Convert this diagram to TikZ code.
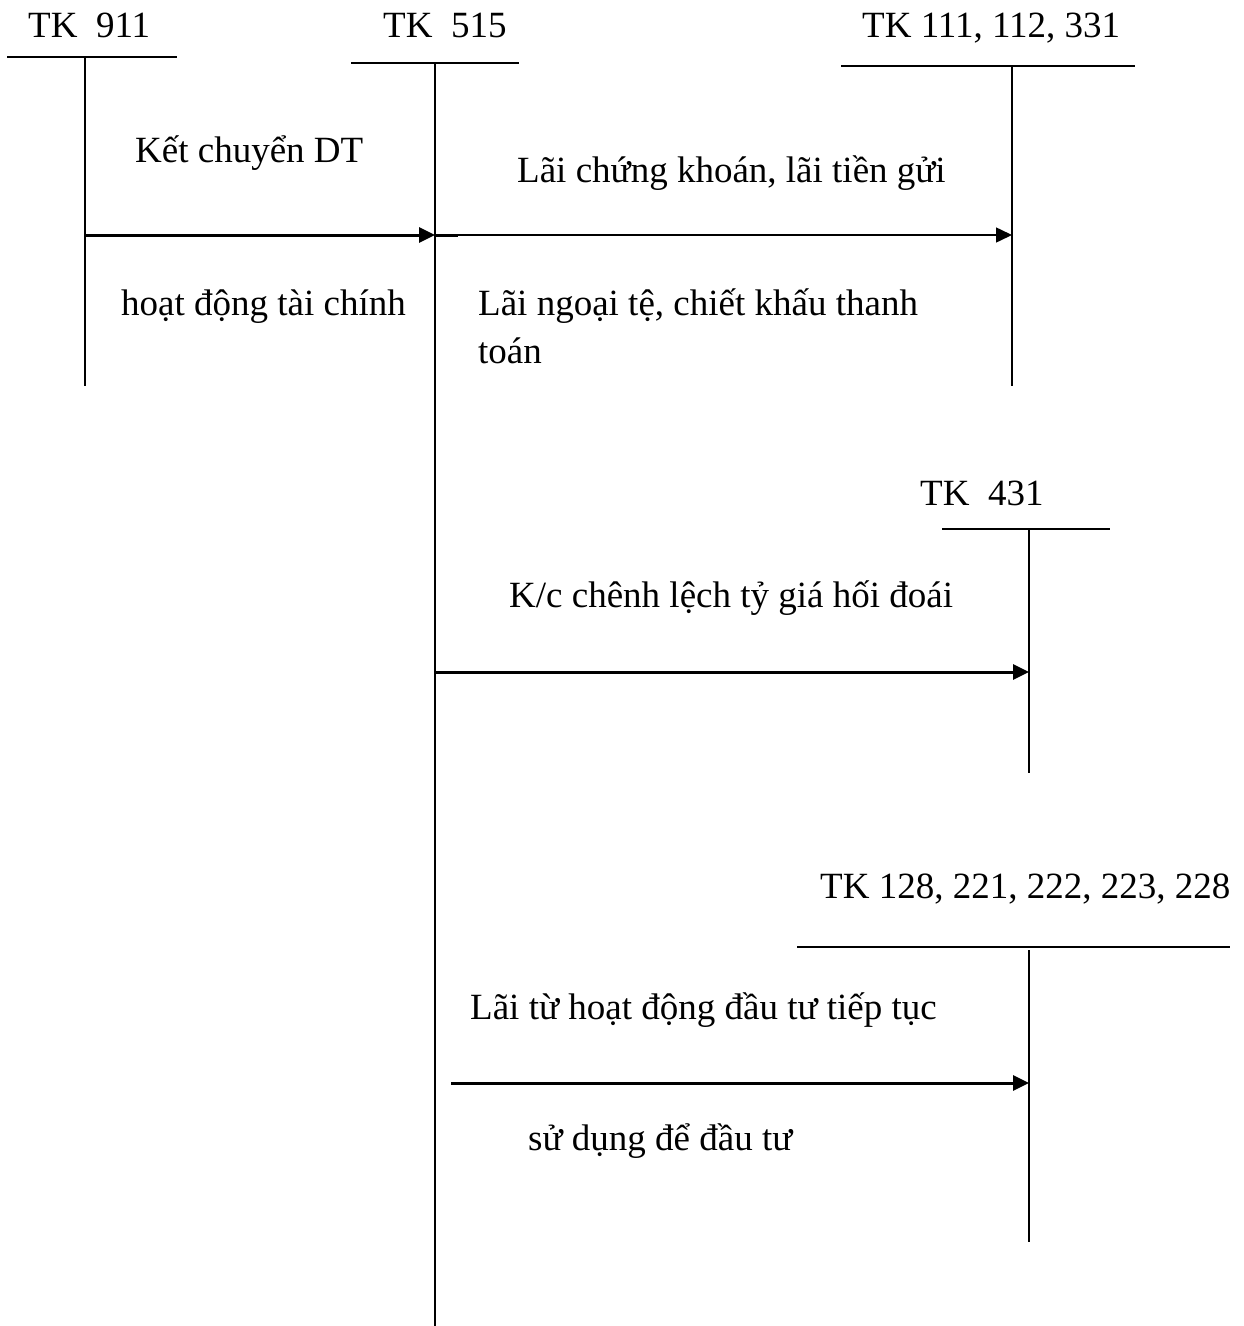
\documentclass[tikz,border=0pt]{standalone}
\usepackage{fontspec}
\setmainfont{Liberation Serif}
\usetikzlibrary{arrows.meta}
\begin{document}
\begin{tikzpicture}[x=1pt,y=-1pt,
  lbl/.style={anchor=base west,inner sep=0pt,font=\fontsize{37}{44}\selectfont},
  tline/.style={line width=2pt},
  thickarrow/.style={line width=3pt,-{Triangle[length=16pt,width=15pt]}},
  thinarrow/.style={line width=1.5pt,-{Triangle[length=16pt,width=15pt]}}]
\useasboundingbox (0,0) rectangle (1243,1326);
% headers
\node[lbl] (h911) at (28,37) {TK~~911};
\node[lbl] (h515) at (383,37) {TK~~515};
\node[lbl] (h111) at (862,37) {TK 111, 112, 331};
\node[lbl] (h431) at (920,505) {TK~~431};
\node[lbl] (h128) at (820,898) {TK 128, 221, 222, 223, 228};
% T-account coordinates
\coordinate (l911a) at (7,57);   \coordinate (l911b) at (177,57);
\coordinate (v911a) at (85,57);  \coordinate (v911b) at (85,386);
\coordinate (l515a) at (351,63); \coordinate (l515b) at (519,63);
\coordinate (v515a) at (435,63); \coordinate (v515b) at (435,1326);
\coordinate (l111a) at (841,66); \coordinate (l111b) at (1135,66);
\coordinate (v111a) at (1012,66);\coordinate (v111b) at (1012,386);
\coordinate (l431a) at (942,529);\coordinate (l431b) at (1110,529);
\coordinate (v431a) at (1029,529);\coordinate (v431b) at (1029,773);
\coordinate (l128a) at (797,947);\coordinate (l128b) at (1230,947);
\coordinate (v128a) at (1029,950);\coordinate (v128b) at (1029,1242);
\draw[tline] (l911a) -- (l911b);
\draw[tline] (v911a) -- (v911b);
\draw[tline] (l515a) -- (l515b);
\draw[tline] (v515a) -- (v515b);
\draw[tline] (l111a) -- (l111b);
\draw[tline] (v111a) -- (v111b);
\draw[tline] (l431a) -- (l431b);
\draw[tline] (v431a) -- (v431b);
\draw[tline] (l128a) -- (l128b);
\draw[tline] (v128a) -- (v128b);
% arrows
\coordinate (a1s) at (85,235);  \coordinate (a1e) at (435,235);
\coordinate (a2m) at (458,235); \coordinate (a2e) at (1012,235);
\coordinate (a3s) at (435,672); \coordinate (a3e) at (1029,672);
\coordinate (a4s) at (451,1083);\coordinate (a4e) at (1029,1083);
\draw[thickarrow] (a1s) -- (a1e);
\draw[line width=3pt] (a1e) -- (a2m);
\draw[thinarrow] (a2m) -- (a2e);
\draw[thickarrow] (a3s) -- (a3e);
\draw[thickarrow] (a4s) -- (a4e);
% labels
\node[lbl] (t1) at (135,162) {Kết chuyển DT};
\node[lbl] (t2) at (121,315) {hoạt động tài chính};
\node[lbl] (t3) at (517,182) {Lãi chứng khoán, lãi tiền gửi};
\node[lbl] (t4) at (478,315) {Lãi ngoại tệ, chiết khấu thanh};
\node[lbl] (t5) at (478,363) {toán};
\node[lbl] (t6) at (509,607) {K/c chênh lệch tỷ giá hối đoái};
\node[lbl] (t7) at (470,1019) {Lãi từ hoạt động đầu tư tiếp tục};
\node[lbl] (t8) at (528,1150) {sử dụng để đầu tư};
\end{tikzpicture}
\end{document}
